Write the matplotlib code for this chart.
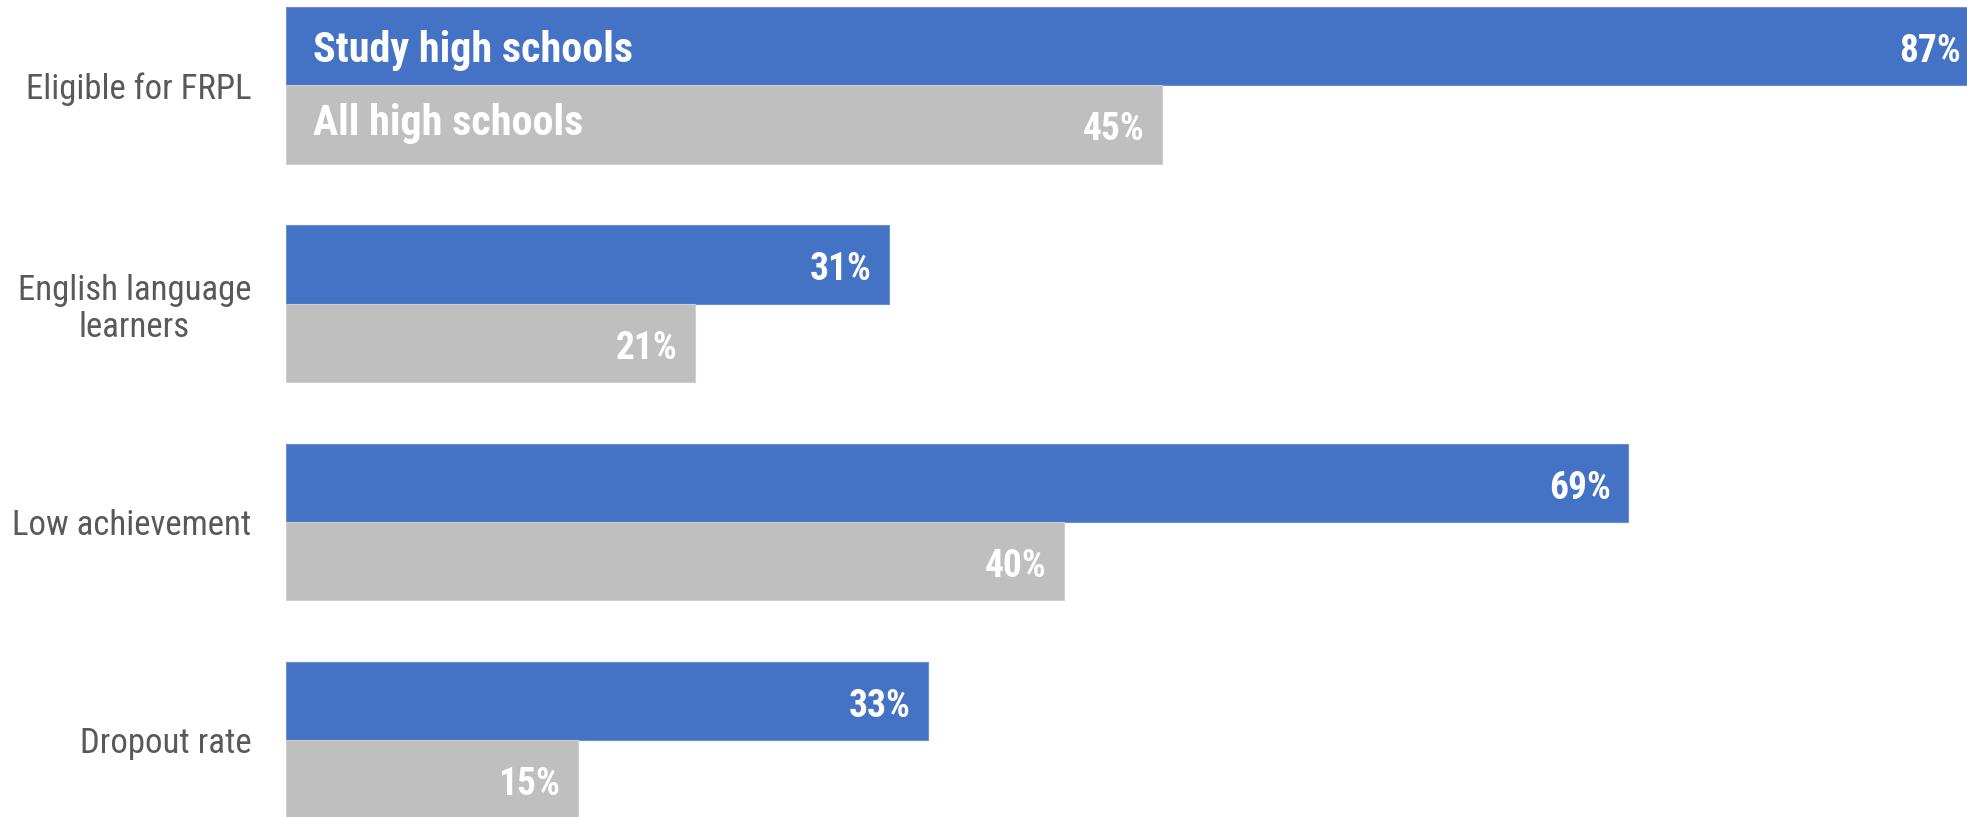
import matplotlib
matplotlib.use("Agg")
import matplotlib.pyplot as plt
import numpy as np

categories = ["Eligible for FRPL", "English language\nlearners", "Low achievement", "Dropout rate"]
study_values = [87, 31, 69, 33]
all_values = [45, 21, 40, 15]
series_names = ["Study high schools", "All high schools"]

BLUE = "#4472C4"
GRAY = "#BFBFBF"
FONT = ["Roboto Condensed", "DejaVu Sans"]

fig = plt.figure(figsize=(19.67, 8.17), dpi=100)
ax = fig.add_axes([286 / 1967, 0, 1 - 286 / 1967, 1])

y = np.arange(len(categories))
h = 0.359
ax.barh(y - h / 2, study_values, height=h, color=BLUE, edgecolor="#6C8FD2", linewidth=0.8)
ax.barh(y + h / 2, all_values, height=h, color=GRAY, edgecolor="#CFCFCF", linewidth=0.8)

ax.set_xlim(0, 86.4)
ax.set_ylim(3.352, -0.391)

for yi, v in zip(y, study_values):
    ax.text(v - 0.9, yi - h / 2 + 0.025, f"{v}%", ha="right", va="center",
            color="white", fontsize=27, fontweight="bold", family=FONT)
for yi, v in zip(y, all_values):
    ax.text(v - 0.9, yi + h / 2 + 0.025, f"{v}%", ha="right", va="center",
            color="white", fontsize=27, fontweight="bold", family=FONT)

# series names written inside the first pair of bars
ax.text(1.38, -h / 2 + 0.022, series_names[0], ha="left", va="center",
        color="white", fontsize=30.3, fontweight="bold", family=FONT)
ax.text(1.38, h / 2 - 0.005, series_names[1], ha="left", va="center",
        color="white", fontsize=30.3, fontweight="bold", family=FONT)

ax.set_yticks(y)
ax.set_yticklabels(categories, fontsize=25, color="#595959", family=FONT,
                   multialignment="center", linespacing=1.15)
ax.tick_params(axis="y", length=0, pad=25)
ax.set_xticks([])
for s in ax.spines.values():
    s.set_visible(False)

fig.savefig("out.png", dpi=100)
